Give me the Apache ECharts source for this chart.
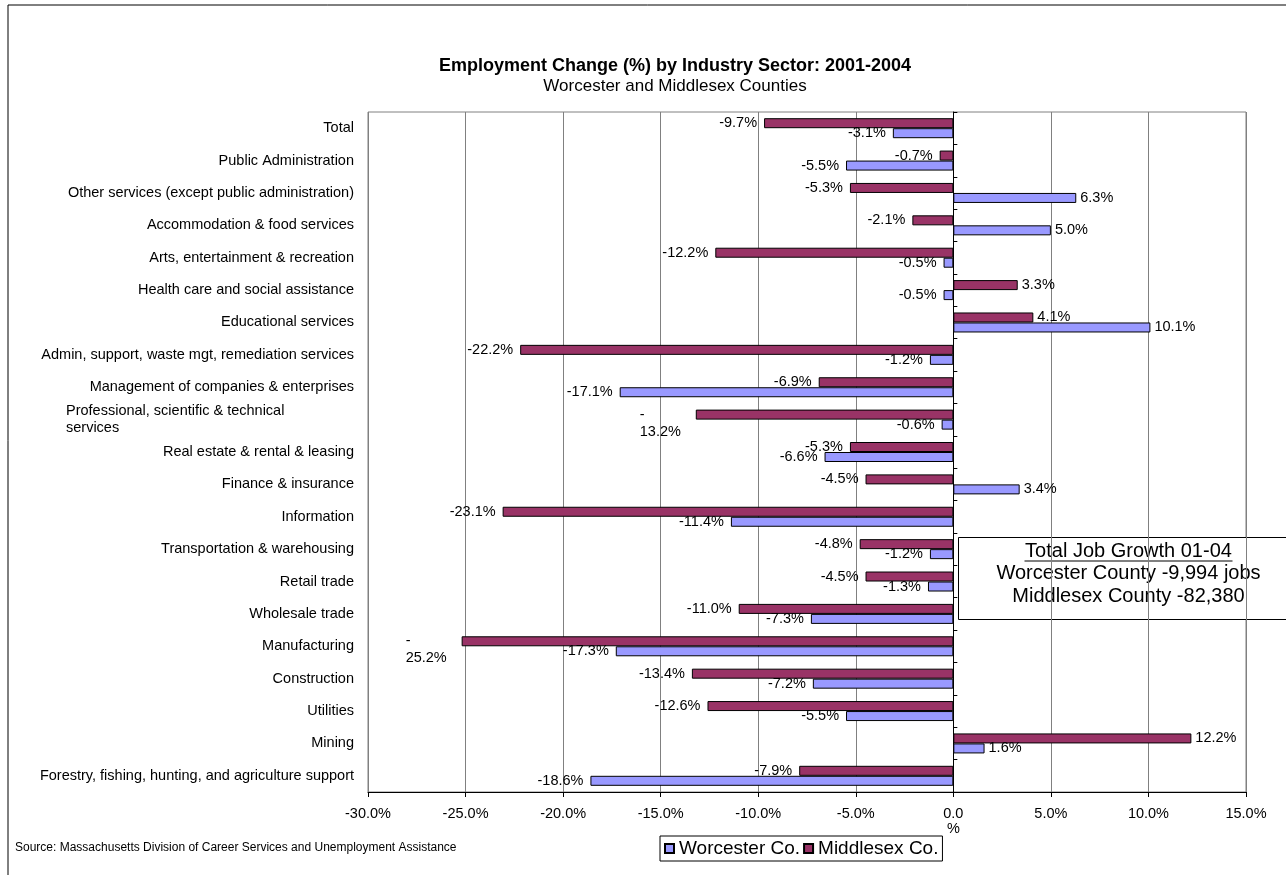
<!DOCTYPE html>
<html>
<head>
<meta charset="utf-8">
<title>Employment Change (%) by Industry Sector: 2001-2004</title>
<script src="https://cdn.jsdelivr.net/npm/echarts@6/dist/echarts.min.js"></script>
<style>
  html, body { margin: 0; padding: 0; background: #fff; }
  #chart { width: 1286px; height: 875px; }
</style>
</head>
<body>
<div id="chart"></div>
<script>
// Industry sectors, listed from the bottom of the chart to the top
const categories = [
  'Forestry, fishing, hunting, and agriculture support',
  'Mining',
  'Utilities',
  'Construction',
  'Manufacturing',
  'Wholesale trade',
  'Retail trade',
  'Transportation & warehousing',
  'Information',
  'Finance & insurance',
  'Real estate & rental & leasing',
  'Professional, scientific & technical\nservices',
  'Management of companies & enterprises',
  'Admin, support, waste mgt, remediation services',
  'Educational services',
  'Health care and social assistance',
  'Arts, entertainment & recreation',
  'Accommodation & food services',
  'Other services (except public administration)',
  'Public Administration',
  'Total'
];

// Employment change 2001-2004, percent
const worcester = [-18.6, 1.6, -5.5, -7.2, -17.3, -7.3, -1.3, -1.2, -11.4, 3.4, -6.6, -0.6, -17.1, -1.2, 10.1, -0.5, -0.5, 5.0, 6.3, -5.5, -3.1];
const middlesex = [-7.9, 12.2, -12.6, -13.4, -25.2, -11.0, -4.5, -4.8, -23.1, -4.5, -5.3, -13.2, -6.9, -22.2, 4.1, 3.3, -12.2, -2.1, -5.3, -0.7, -9.7];

// Long negative labels that break after the minus sign
const wrappedMiddlesex = ['Professional, scientific & technical\nservices', 'Manufacturing'];

const seriesNames = ['Worcester Co.', 'Middlesex Co.'];
const jobGrowthLines = ['Total Job Growth 01-04', 'Worcester County -9,994 jobs', 'Middlesex County -82,380'];
const sourceNote = 'Source: Massachusetts Division of Career Services and Unemployment Assistance';

const FONT = '"Liberation Sans", Arial, Helvetica, sans-serif';
const FS = 14.5;

function pct(v) { return v.toFixed(1) + '%'; }

function barData(values, wrapped) {
  return values.map(function (v, i) {
    const lbl = v < 0
      ? { position: 'left', distance: 7 }
      : { position: 'right', distance: 4 };
    if (wrapped && wrapped.indexOf(categories[i]) >= 0) {
      lbl.distance = 14;
      lbl.offset = [0, 8.5];
      lbl.formatter = '{w|-}\n{w|' + Math.abs(v).toFixed(1) + '%}';
      lbl.rich = { w: { width: 42, align: 'left', fontSize: FS, fontFamily: FONT, color: '#000', lineHeight: 17 } };
    }
    return { value: v, label: lbl };
  });
}

const chart = echarts.init(document.getElementById('chart'), null, { renderer: 'canvas' });

const option = {
  animation: false,
  backgroundColor: '#fff',
  textStyle: { fontFamily: FONT, color: '#000' },
  title: [
    {
      text: 'Employment Change (%) by Industry Sector: 2001-2004',
      left: 670, top: 52, textAlign: 'center',
      textStyle: { fontFamily: FONT, fontSize: 18, fontWeight: 'bold', color: '#000' }
    },
    {
      text: 'Worcester and Middlesex Counties',
      left: 670, top: 73, textAlign: 'center',
      textStyle: { fontFamily: FONT, fontSize: 17, fontWeight: 'normal', color: '#000' }
    }
  ],
  legend: {
    data: seriesNames,
    left: 660, top: 836,
    orient: 'horizontal',
    icon: 'rect',
    itemWidth: 9, itemHeight: 9, itemGap: 3,
    padding: [3, 4, 3, 4],
    borderColor: '#000', borderWidth: 1,
    backgroundColor: '#fff',
    textStyle: { fontFamily: FONT, fontSize: 19, color: '#000' }
  },
  grid: {
    left: 368, right: 40, top: 112, bottom: 83,
    show: true, borderColor: '#808080', borderWidth: 1, backgroundColor: '#fff'
  },
  xAxis: {
    type: 'value',
    min: -30, max: 15, interval: 5,
    axisLine: { show: true, onZero: false, lineStyle: { color: '#000', width: 1 } },
    axisTick: { show: true, length: 5, lineStyle: { color: '#000' } },
    axisLabel: {
      fontFamily: FONT, fontSize: FS, color: '#000', margin: 14, lineHeight: 15,
      formatter: function (v) { return v === 0 ? '0.0\n%' : pct(v); }
    },
    splitLine: { show: true, lineStyle: { color: '#808080', width: 1 } }
  },
  yAxis: [
    {
      type: 'category',
      data: categories,
      axisLine: { show: false, onZero: false },
      axisTick: { show: false },
      splitLine: { show: false },
      axisLabel: {
        fontFamily: FONT, fontSize: FS, color: '#000', margin: 14, interval: 0,
        formatter: function (name) {
          if (name.indexOf('\n') < 0) return name;
          return name.split('\n').map(function (l) { return '{w|' + l + '}'; }).join('\n');
        },
        rich: { w: { width: 288, align: 'left', fontFamily: FONT, fontSize: FS, color: '#000', lineHeight: 17 } }
      }
    },
    {
      type: 'category',
      data: categories,
      position: 'left',
      axisLine: { show: true, onZero: true, lineStyle: { color: '#000', width: 1 } },
      axisTick: { show: true, inside: true, length: 4, lineStyle: { color: '#000' } },
      axisLabel: { show: false },
      splitLine: { show: false }
    }
  ],
  series: [
    {
      name: seriesNames[1],
      type: 'bar',
      yAxisIndex: 0,
      barWidth: 10,
      barGap: '0%',
      itemStyle: { color: '#993366', borderColor: '#000', borderWidth: 1 },
      label: {
        show: true, fontFamily: FONT, fontSize: FS, color: '#000',
        formatter: function (p) { return pct(p.value); }
      },
      data: barData(middlesex, wrappedMiddlesex)
    },
    {
      name: seriesNames[0],
      type: 'bar',
      yAxisIndex: 0,
      barWidth: 10,
      barGap: '0%',
      itemStyle: { color: '#9999FF', borderColor: '#000', borderWidth: 1 },
      label: {
        show: true, fontFamily: FONT, fontSize: FS, color: '#000',
        formatter: function (p) { return pct(p.value); }
      },
      data: barData(worcester, null)
    }
  ],
  graphic: [
    // chart frame
    {
      type: 'rect', silent: true, z: -10,
      shape: { x: 8, y: 5, width: 1300, height: 900 },
      style: { fill: 'none', stroke: '#000', lineWidth: 1 }
    },
    // job growth note
    {
      type: 'group', left: 958, top: 537, z: 100,
      children: [
        { type: 'rect', shape: { x: 0, y: 0, width: 340, height: 82 }, style: { fill: '#fff', stroke: '#000', lineWidth: 1 } },
        { type: 'text', x: 170, y: 14, style: { text: jobGrowthLines[0], font: '20px ' + FONT, fill: '#000', align: 'center', verticalAlign: 'middle' } },
        { type: 'line', shape: { x1: 170 - 104, y1: 23.5, x2: 170 + 104, y2: 23.5 }, style: { stroke: '#000', lineWidth: 1.2 } },
        { type: 'text', x: 170, y: 36, style: { text: jobGrowthLines[1], font: '20px ' + FONT, fill: '#000', align: 'center', verticalAlign: 'middle' } },
        { type: 'text', x: 170, y: 59, style: { text: jobGrowthLines[2], font: '20px ' + FONT, fill: '#000', align: 'center', verticalAlign: 'middle' } }
      ]
    },
    {
      type: 'text', left: 15, top: 842,
      style: { text: sourceNote, font: '12px ' + FONT, fill: '#000' }
    }
  ]
};

chart.setOption(option);
</script>
</body>
</html>
